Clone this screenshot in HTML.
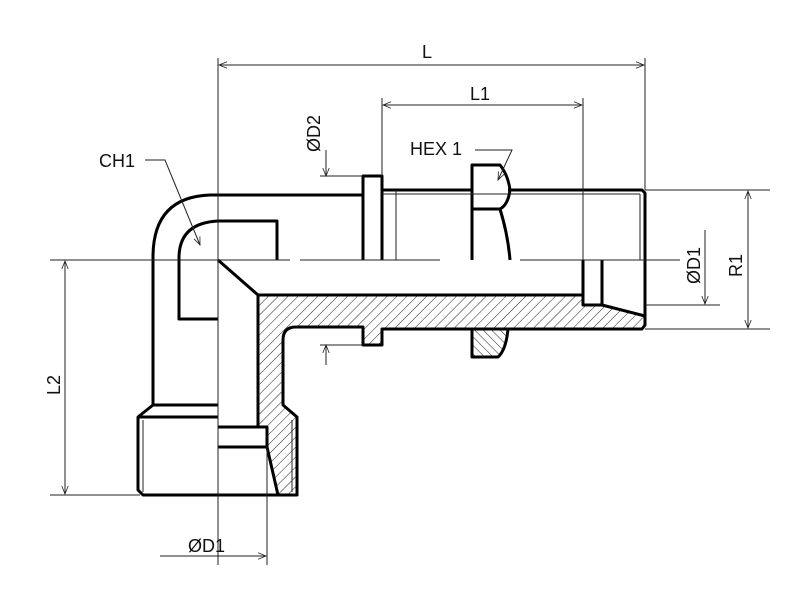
<!DOCTYPE html>
<html><head><style>body{margin:0;background:#fff}svg{display:block}text{font-family:"Liberation Sans",sans-serif;font-size:18px;fill:#111}</style></head><body>
<svg width="800" height="600" viewBox="0 0 800 600">
<defs>
<pattern id="h" width="7" height="7" patternUnits="userSpaceOnUse" patternTransform="rotate(45)"><line x1="0" y1="0" x2="0" y2="7" stroke="#222" stroke-width="1"/></pattern>
<pattern id="h2" width="6" height="6" patternUnits="userSpaceOnUse" patternTransform="rotate(-45)"><line x1="0" y1="0" x2="0" y2="6" stroke="#222" stroke-width="1"/></pattern>
<marker id="a" viewBox="0 0 10 10" refX="10" refY="5" markerWidth="10" markerHeight="8" orient="auto-start-reverse" markerUnits="userSpaceOnUse"><path d="M0,1 L10,5 L0,9" fill="none" stroke="#222" stroke-width="1"/></marker>
</defs>
<path d="M258,295 L583,295 L583,305 L602,305 L645,316 L645,325 L642,329 L382,329 L382,345 L363,345 L363,327 L292,327 Q283,328 283,340 L283,405 L297,417 L297,495 L278,495 L267,447 L267,427 L258,427 Z" fill="url(#h)"/>
<path d="M472,329 L508,329 Q506,350 498,357 L472,357 Z" fill="url(#h2)"/>
<g fill="none" stroke="#000" stroke-width="3" stroke-linejoin="round">
<path d="M363,195 L210,195 Q153,197 153,257 L153,405"/>
<path d="M277,260 L277,221 L218,221 Q179,223 179,258 L179,319 L218,319"/>
<path d="M218,260 L258,295 L583,295 L583,305 L602,305 L645,316"/>
<path d="M258,295 L258,427 L218,427 M258,427 L267,427 L267,447 L218,447 M267,447 L278,495"/>
<path d="M153,405 L218,405 M153,405 L138,417 L138,490 L143,495 L297,495 L297,417 L283,405 L283,340 Q283,327 296,327 L363,327 L363,345 L382,345 L382,329 L642,329 L645,325 L645,193 L642,190 L508,190"/>
<path d="M138,417 L218,417"/>
<path d="M363,260 L363,176 L382,176 L382,260 M382,190 L472,190"/>
<path d="M472,260 L472,165 L500,165 Q508,175 510,190 Q508,205 500,209 L472,209 M500,209 Q508,235 510,260"/>
<path d="M472,329 L472,357 L498,357 Q506,350 508,329"/>
<path d="M583,260 L583,305 M602,260 L602,305"/>
</g>
<g fill="none" stroke="#222" stroke-width="1">
<path d="M382,194 L640,194 M396,190 L396,260 M640,194 L640,260 M143,420 L143,492 M292,420 L292,492"/>
<path d="M50,260 L290,260 M300,260 L440,260 M520,260 L680,260"/>
<path d="M218,58 L218,565"/>
<path d="M645,58 L645,190 M382,98 L382,176 M583,98 L583,260"/>
<path d="M219,65 L644,65" marker-start="url(#a)" marker-end="url(#a)"/>
<path d="M383,105 L582,105" marker-start="url(#a)" marker-end="url(#a)"/>
<path d="M320,176 L363,176 M320,345 L363,345"/>
<path d="M326,150 L326,176" marker-end="url(#a)"/>
<path d="M326,365 L326,345" marker-end="url(#a)"/>
<path d="M645,190 L770,190 M645,329 L770,329 M645,305 L720,305"/>
<path d="M748,191 L748,328" marker-start="url(#a)" marker-end="url(#a)"/>
<path d="M705,230 L705,304" marker-end="url(#a)"/>
<path d="M50,495 L140,495"/>
<path d="M65,261 L65,494" marker-start="url(#a)" marker-end="url(#a)"/>
<path d="M267,447 L267,565"/>
<path d="M160,556 L266,556" marker-end="url(#a)"/>
<path d="M145,160 L165,160 L200,245" marker-end="url(#a)"/>
<path d="M475,150 L512,150 L498,180" marker-end="url(#a)"/>
</g>
<text x="422" y="58">L</text>
<text x="470" y="100">L1</text>
<text x="99" y="167">CH1</text>
<text x="410" y="155">HEX 1</text>
<text x="188" y="552">ØD1</text>
<text transform="translate(320,152) rotate(-90)">ØD2</text>
<text transform="translate(700,284) rotate(-90)">ØD1</text>
<text transform="translate(742,277) rotate(-90)">R1</text>
<text transform="translate(60,395) rotate(-90)">L2</text>
</svg>
</body></html>
